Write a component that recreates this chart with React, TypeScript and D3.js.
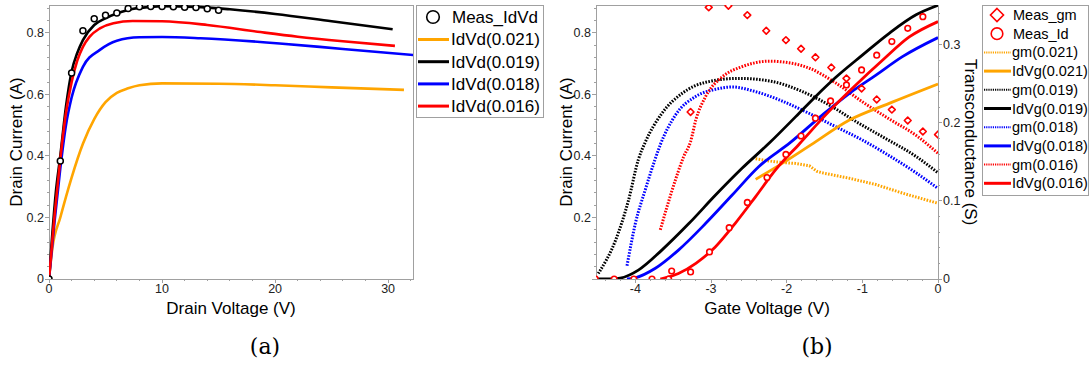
import * as d3 from "d3"

// ---- (a) output characteristics, Id vs Vd ----
const vdMeas  = [0, 1, 2, 3, 4, 5, 6, 7, 8, 9, 10, 11, 12, 13, 14, 15]
const idMeas  = [0, 0.384, 0.67, 0.807, 0.846, 0.858, 0.865, 0.88, 0.885, 0.886, 0.886, 0.885, 0.884, 0.883, 0.879, 0.874]

const vd021 = [0, 0.3, 1, 2, 3, 4, 5, 6, 7, 8, 10, 15, 20, 25, 31.4]
const id021 = [0, 0.1, 0.2, 0.33, 0.44, 0.52, 0.575, 0.605, 0.62, 0.63, 0.636, 0.635, 0.63, 0.623, 0.615]
const vd019 = [0, 0.3, 0.6, 1, 1.5, 2, 2.5, 3, 4, 5, 7, 9, 10, 13, 16, 20, 25, 30.4]
const id019 = [0, 0.15, 0.28, 0.4, 0.56, 0.675, 0.735, 0.777, 0.826, 0.848, 0.875, 0.885, 0.887, 0.885, 0.877, 0.862, 0.838, 0.812]
const vd018 = [0, 0.5, 1, 1.5, 2, 3, 4.5, 6, 8, 10, 13.4, 20.4, 26, 33]
const id018 = [0, 0.19, 0.36, 0.5, 0.59, 0.69, 0.745, 0.775, 0.786, 0.787, 0.783, 0.766, 0.748, 0.726]
const vd016 = [0, 0.5, 1, 1.5, 2, 2.5, 3, 3.6, 4.5, 5.7, 7.4, 10, 14, 18.7, 22, 26, 30.6]
const id016 = [0, 0.21, 0.39, 0.54, 0.64, 0.71, 0.755, 0.788, 0.815, 0.832, 0.839, 0.838, 0.826, 0.803, 0.788, 0.773, 0.758]

// ---- (b) transfer characteristics, Id and gm vs Vg ----
const vgMeasId = [-4.53, -4.28, -4.02, -3.78, -3.56, -3.52, -3.27, -3.02, -2.76, -2.52, -2.26, -2.01, -1.81, -1.62, -1.42, -1.21, -1.01, -0.81, -0.61, -0.4, -0.2]
const measId   = [0, 0, 0, 0, 0, 0.026, 0.023, 0.088, 0.167, 0.249, 0.33, 0.405, 0.465, 0.523, 0.579, 0.631, 0.68, 0.728, 0.772, 0.815, 0.853]
const vgMeasGm = [-3.27, -3.03, -2.77, -2.52, -2.27, -2.01, -1.81, -1.62, -1.41, -1.21, -1.01, -0.81, -0.61, -0.4, -0.2, 0]
const measGm   = [0.214, 0.348, 0.35, 0.338, 0.318, 0.306, 0.295, 0.284, 0.271, 0.257, 0.244, 0.23, 0.217, 0.203, 0.189, 0.185]

const vgId021 = [-2.41, -2.0, -1.68, -1.17, -0.645, 0]
const idVg021 = [0.324, 0.385, 0.436, 0.517, 0.571, 0.634]
const vgId019 = [-4.52, -4.35, -4.2, -3.96, -3.65, -3.29, -2.94, -2.59, -2.23, -1.88, -1.62, -1.35, -1.0, -0.645, -0.29, 0]
const idVg019 = [0, 0, 0.003, 0.029, 0.094, 0.181, 0.273, 0.36, 0.442, 0.528, 0.593, 0.656, 0.728, 0.799, 0.859, 0.89]
const vgId018 = [-4.11, -4.0, -3.735, -3.43, -3.07, -2.72, -2.37, -1.95, -1.53, -1.17, -0.82, -0.47, 0]
const idVg018 = [0, 0.004, 0.035, 0.094, 0.181, 0.273, 0.365, 0.444, 0.533, 0.604, 0.663, 0.723, 0.785]
const vgId016 = [-3.67, -3.43, -3.2, -2.94, -2.68, -2.41, -2.15, -1.83, -1.44, -1.09, -0.73, -0.38, 0]
const idVg016 = [0, 0.018, 0.051, 0.105, 0.181, 0.268, 0.354, 0.44, 0.545, 0.63, 0.712, 0.787, 0.837]

const vgGm021 = [-2.41, -2.15, -1.88, -1.7, -1.6, -1.53, -1.17, -0.82, -0.47, 0]
const gm021   = [0.154, 0.15, 0.148, 0.145, 0.138, 0.136, 0.129, 0.121, 0.11, 0.097]
const vgGm019 = [-4.49, -4.26, -4.09, -3.96, -3.87, -3.65, -3.38, -3.07, -2.63, -2.19, -1.79, -1.44, -1.09, -0.73, -0.29, 0]
const gm019   = [0.007, 0.05, 0.101, 0.153, 0.175, 0.212, 0.238, 0.252, 0.257, 0.253, 0.24, 0.223, 0.202, 0.182, 0.157, 0.136]
const vgGm018 = [-4.11, -4.0, -3.87, -3.74, -3.67, -3.47, -3.2, -2.94, -2.72, -2.41, -2.06, -1.7, -1.35, -1.0, -0.645, -0.29, 0]
const gm018   = [0.017, 0.071, 0.114, 0.153, 0.172, 0.21, 0.234, 0.243, 0.246, 0.24, 0.228, 0.212, 0.195, 0.178, 0.158, 0.136, 0.116]
const vgGm016 = [-3.67, -3.58, -3.47, -3.36, -3.27, -3.2, -3.07, -2.85, -2.59, -2.23, -1.97, -1.7, -1.35, -1.0, -0.645, -0.29, 0]
const gm016   = [0.063, 0.093, 0.127, 0.157, 0.176, 0.204, 0.234, 0.259, 0.272, 0.279, 0.277, 0.27, 0.251, 0.227, 0.205, 0.184, 0.161]

const ORANGE = "#ffa500"
const BLACK  = "#000000"
const BLUE   = "#0000ff"
const RED    = "#ff0000"
const FRAME  = "#a0a0a0"
const SANS   = "'Liberation Sans', Arial, sans-serif"

const zip = (xs: number[], ys: number[]) => xs.map((x, i) => [x, ys[i]] as [number, number])

// plot boxes
const A = { x0: 49, x1: 413, y0: 5, y1: 279 }
const B = { x0: 596, x1: 938, y0: 5, y1: 279 }

const xa = d3.scaleLinear().domain([0, 32.2]).range([A.x0, A.x1])
const ya = d3.scaleLinear().domain([0, 0.891]).range([A.y1, A.y0])
const xb = d3.scaleLinear().domain([-4.52, 0]).range([B.x0, B.x1])
const yb = d3.scaleLinear().domain([0, 0.891]).range([B.y1, B.y0])
const gb = d3.scaleLinear().domain([0, 0.351]).range([B.y1, B.y0])

const range = (a: number, b: number, s: number) =>
  d3.range(Math.round((b - a) / s) + 1).map((i) => +(a + i * s).toFixed(4))

function Frame({ box }: { box: typeof A }) {
  return (
    <rect x={box.x0} y={box.y0} width={box.x1 - box.x0} height={box.y1 - box.y0}
      fill="none" stroke={FRAME} strokeWidth={1} shapeRendering="crispEdges" />
  )
}

function XAxis({ scale, y, major, minor }: any) {
  return (
    <g>
      {minor.map((t: number) => (
        <line key={"m" + t} x1={scale(t)} x2={scale(t)} y1={y} y2={y + 2} stroke={FRAME} shapeRendering="crispEdges" />
      ))}
      {major.map((t: number) => (
        <g key={t}>
          <line x1={scale(t)} x2={scale(t)} y1={y} y2={y + 4} stroke={FRAME} shapeRendering="crispEdges" />
          <text x={scale(t)} y={y + 14} textAnchor="middle" fontSize={12.5} fontFamily={SANS} fill="#222">
            {String(t)}
          </text>
        </g>
      ))}
    </g>
  )
}

function YAxis({ scale, x, major, minor, side, skipZero = false }: any) {
  const d = side === "left" ? -1 : 1
  return (
    <g>
      {minor.map((t: number) => (
        <line key={"m" + t} x1={x} x2={x + d * 2} y1={scale(t)} y2={scale(t)} stroke={FRAME} shapeRendering="crispEdges" />
      ))}
      {major.map((t: number) => (
        <g key={t}>
          <line x1={x} x2={x + d * 4} y1={scale(t)} y2={scale(t)} stroke={FRAME} shapeRendering="crispEdges" />
          {!(skipZero && t === 0) && (
            <text x={x + d * 5} y={scale(t)} dy="0.35em" textAnchor={side === "left" ? "end" : "start"}
              fontSize={12.5} fontFamily={SANS} fill="#222">
              {d3.format("~g")(t)}
            </text>
          )}
        </g>
      ))}
    </g>
  )
}

export default function App() {
  const lineA = d3.line<[number, number]>().x((d) => xa(d[0])).y((d) => ya(d[1])).curve(d3.curveMonotoneX)
  const lineB = d3.line<[number, number]>().x((d) => xb(d[0])).y((d) => yb(d[1])).curve(d3.curveMonotoneX)
  const lineG = d3.line<[number, number]>().x((d) => xb(d[0])).y((d) => gb(d[1])).curve(d3.curveMonotoneX)
  const lineGlin = d3.line<[number, number]>().x((d) => xb(d[0])).y((d) => gb(d[1]))

  const curvesA = [
    { name: "IdVd(0.021)", color: ORANGE, pts: zip(vd021, id021) },
    { name: "IdVd(0.019)", color: BLACK, pts: zip(vd019, id019) },
    { name: "IdVd(0.018)", color: BLUE, pts: zip(vd018, id018) },
    { name: "IdVd(0.016)", color: RED, pts: zip(vd016, id016) },
  ]

  const gmCurves = [
    { name: "gm(0.021)", color: ORANGE, d: lineGlin(zip(vgGm021, gm021)) },
    { name: "gm(0.019)", color: BLACK, d: lineG(zip(vgGm019, gm019)) },
    { name: "gm(0.018)", color: BLUE, d: lineG(zip(vgGm018, gm018)) },
    { name: "gm(0.016)", color: RED, d: lineG(zip(vgGm016, gm016)) },
  ]
  const idCurves = [
    { name: "IdVg(0.021)", color: ORANGE, d: lineB(zip(vgId021, idVg021)) },
    { name: "IdVg(0.019)", color: BLACK, d: lineB(zip(vgId019, idVg019)) },
    { name: "IdVg(0.018)", color: BLUE, d: lineB(zip(vgId018, idVg018)) },
    { name: "IdVg(0.016)", color: RED, d: lineB(zip(vgId016, idVg016)) },
  ]
  const legendB = [
    gmCurves[0], idCurves[0], gmCurves[1], idCurves[1],
    gmCurves[2], idCurves[2], gmCurves[3], idCurves[3],
  ]

  const DASH = "1.6,1.4"

  return (
    <svg width={1092} height={369} style={{ position: "absolute", left: 0, top: 0, background: "#fff" }}>
      <defs>
        <clipPath id="clipA"><rect x={A.x0} y={A.y0} width={A.x1 - A.x0} height={A.y1 - A.y0} /></clipPath>
        <clipPath id="clipB"><rect x={B.x0} y={B.y0} width={B.x1 - B.x0} height={B.y1 - B.y0} /></clipPath>
      </defs>

      {/* ---------- (a) ---------- */}
      <Frame box={A} />
      <XAxis scale={xa} y={A.y1} major={[0, 10, 20, 30]} minor={range(0, 32, 2)} />
      <YAxis scale={ya} x={A.x0} major={[0, 0.2, 0.4, 0.6, 0.8]} minor={range(0, 0.88, 0.04)} side="left" />

      <g clipPath="url(#clipA)" fill="none" strokeWidth={2.6} strokeLinejoin="round">
        {curvesA.map((c) => (
          <path key={c.name} d={lineA(c.pts) || ""} stroke={c.color} />
        ))}
        {zip(vdMeas, idMeas).map(([v, i]) => (
          <circle key={v} cx={xa(v)} cy={ya(i)} r={3} fill="#fff" stroke={BLACK} strokeWidth={1.5} />
        ))}
      </g>

      <text x={(A.x0 + A.x1) / 2} y={314} textAnchor="middle" fontSize={17} fontFamily={SANS}>Drain Voltage (V)</text>
      <text transform={`translate(22,${(A.y0 + A.y1) / 2}) rotate(-90)`} textAnchor="middle" fontSize={17} fontFamily={SANS}>
        Drain Current (A)
      </text>

      {/* legend (a) */}
      <g fontFamily={SANS} fontSize={17}>
        <rect x={416} y={5} width={127} height={112} fill="#fff" stroke={FRAME} shapeRendering="crispEdges" />
        <circle cx={433} cy={17} r={6.3} fill="none" stroke={BLACK} strokeWidth={1.6} />
        <text x={452} y={17} dy="0.35em">Meas_IdVd</text>
        {curvesA.map((c, i) => {
          const cy = 39.5 + i * 22.2
          return (
            <g key={c.name}>
              <line x1={418} x2={449} y1={cy} y2={cy} stroke={c.color} strokeWidth={3} />
              <text x={451} y={cy} dy="0.35em">{c.name}</text>
            </g>
          )
        })}
      </g>

      <text x={265} y={354} textAnchor="middle" fontSize={22} fontFamily="'DejaVu Serif', serif">(a)</text>

      {/* ---------- (b) ---------- */}
      <Frame box={B} />
      <XAxis scale={xb} y={B.y1} major={[-4, -3, -2, -1, 0]} minor={range(-4.4, 0, 0.2)} />
      <YAxis scale={yb} x={B.x0} major={[0, 0.2, 0.4, 0.6, 0.8]} minor={range(0, 0.88, 0.04)} side="left" skipZero />
      <YAxis scale={gb} x={B.x1} major={[0, 0.1, 0.2, 0.3]} minor={range(0, 0.34, 0.02)} side="right" />

      <g clipPath="url(#clipB)" fill="none" strokeLinejoin="round">
        {gmCurves.map((c) => (
          <path key={c.name} d={c.d || ""} stroke={c.color} strokeWidth={3} strokeDasharray={DASH} />
        ))}
        {idCurves.map((c) => (
          <path key={c.name} d={c.d || ""} stroke={c.color} strokeWidth={2.8} />
        ))}
        {zip(vgMeasId, measId).map(([v, i]) => (
          <circle key={"i" + v} cx={xb(v)} cy={yb(i)} r={2.8} fill="#fff" stroke={RED} strokeWidth={1.6} />
        ))}
        {zip(vgMeasGm, measGm).map(([v, g]) => {
          const cx = xb(v), cy = gb(g), s = 3.4
          return (
            <path key={"g" + v} d={`M${cx},${cy - s}L${cx + s},${cy}L${cx},${cy + s}L${cx - s},${cy}Z`}
              fill="#fff" stroke={RED} strokeWidth={1.6} />
          )
        })}
      </g>

      <text x={(B.x0 + B.x1) / 2} y={314} textAnchor="middle" fontSize={17} fontFamily={SANS}>Gate Voltage (V)</text>
      <text transform={`translate(572,${(B.y0 + B.y1) / 2}) rotate(-90)`} textAnchor="middle" fontSize={17} fontFamily={SANS}>
        Drain Current (A)
      </text>
      <text transform={`translate(965,${(B.y0 + B.y1) / 2}) rotate(90)`} textAnchor="middle" fontSize={17} fontFamily={SANS}>
        Transconductance (S)
      </text>

      {/* legend (b) */}
      <g fontFamily={SANS} fontSize={14.5}>
        <rect x={982} y={5} width={106} height={190} fill="#fff" stroke={FRAME} shapeRendering="crispEdges" />
        <path d="M997,8.5L1003.5,15L997,21.5L990.5,15Z" fill="none" stroke={RED} strokeWidth={1.6} />
        <text x={1013} y={15} dy="0.35em">Meas_gm</text>
        <circle cx={997} cy={33.7} r={5.8} fill="none" stroke={RED} strokeWidth={1.6} />
        <text x={1013} y={33.7} dy="0.35em">Meas_Id</text>
        {legendB.map((c, i) => {
          const cy = 52.4 + i * 18.7
          const dotted = c.name.startsWith("gm")
          return (
            <g key={c.name}>
              <line x1={984} x2={1011} y1={cy} y2={cy} stroke={c.color}
                strokeWidth={dotted ? 2 : 3} strokeDasharray={dotted ? "1.2,1" : undefined} />
              <text x={1012} y={cy} dy="0.35em">{c.name}</text>
            </g>
          )
        })}
      </g>

      <text x={817} y={354} textAnchor="middle" fontSize={22} fontFamily="'DejaVu Serif', serif">(b)</text>
    </svg>
  )
}
